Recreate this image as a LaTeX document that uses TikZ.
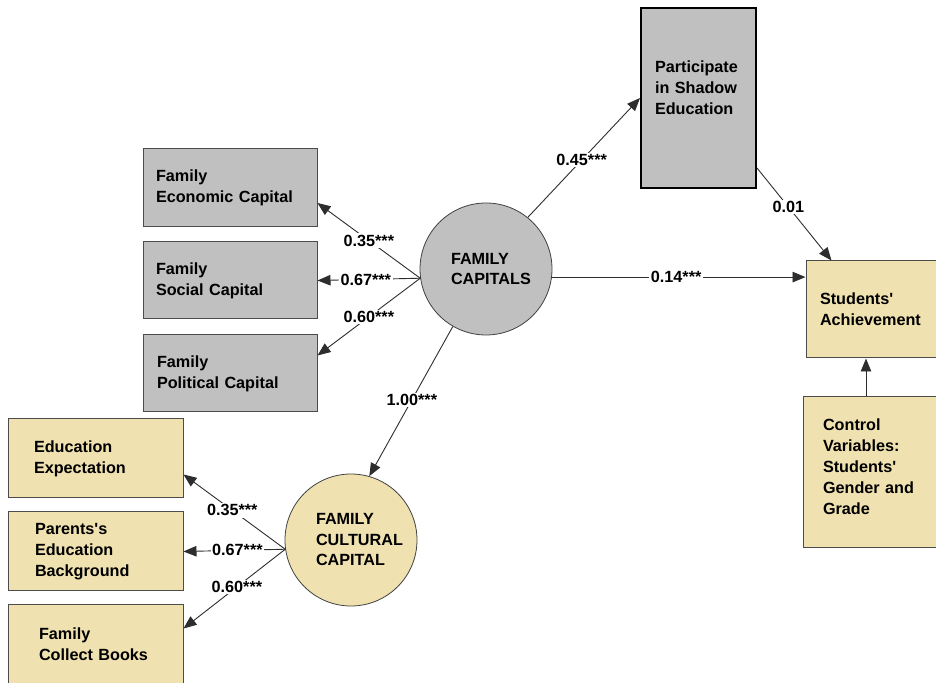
\documentclass[tikz,border=0pt]{standalone}
\usepackage{fontspec}
\setmainfont{Liberation Sans}
\usetikzlibrary{arrows.meta}
\definecolor{boxgray}{RGB}{192,192,192}
\definecolor{boxbeige}{RGB}{240,226,176}
\definecolor{edgegray}{RGB}{45,45,45}
\tikzset{
    box/.style = {
        draw = black!70,
        line width = 1pt,
        align = left,
        inner sep = 0pt,
        font = \bfseries\fontsize{16.2}{21}\selectfont,
        },
    gray box/.style = {
        box,
        fill = boxgray,
        },
    beige box/.style = {
        box,
        fill = boxbeige,
        },
    latent/.style = {
        circle,
        draw = black!75,
        line width = 0.8pt,
        minimum size = 132pt,
        inner sep = 0pt,
        align = left,
        text width = 100pt,
        execute at begin node = {\setlength{\leftskip}{15pt}},
        font = \bfseries\fontsize{16.2}{20.5}\selectfont,
        },
    coef arrow/.style = {
        draw = edgegray,
        line width = 0.9pt,
        -{Triangle[length=13pt, width=10.5pt]},
        },
    coef/.style = {
        fill = white,
        inner sep = 1.5pt,
        font = \bfseries\fontsize{16.2}{18}\selectfont,
        },
}

\begin{document}
\begin{tikzpicture}[x=1pt, y=1pt]
    \path[use as bounding box, clip] (0,0) rectangle (936,682);

    % family capitals and their indicators
    \node [latent, fill=boxgray] (fc) at (486,413) {FAMILY\\CAPITALS};
    \node [gray box, minimum width=174pt, minimum height=78pt, text width=148pt] (econ) at (230,494) {Family\\Economic Capital};
    \node [gray box, minimum width=174pt, minimum height=77pt, text width=148pt] (social) at (230,401.5) {Family\\Social Capital};
    \node [gray box, minimum width=174pt, minimum height=77pt, text width=146pt] (polit) at (230,308.5) {Family\\Political Capital};

    % family cultural capital and its indicators
    \node [latent, fill=boxbeige] (fcc) at (351,142) {FAMILY\\CULTURAL\\CAPITAL};
    \node [beige box, minimum width=175pt, minimum height=79pt, text width=123pt] (expect) at (95.5,223.5) {Education\\Expectation};
    \node [beige box, minimum width=175pt, minimum height=79pt, text width=121pt] (parent) at (95.5,130.5) {Parents\textquotesingle s\\Education\\Background};
    \node [beige box, minimum width=175pt, minimum height=79pt, text width=113pt] (books) at (95.5,37.5) {Family\\Collect Books};

    % outcomes
    \node [gray box, draw=black, line width=2pt, minimum width=115pt, minimum height=180pt, text width=87pt] (shadow) at (698.5,584) {Participate\\in Shadow\\Education\\\mbox{}};
    \node [beige box, minimum width=144pt, minimum height=97pt, text width=116pt] (ach) at (878,372.5) {Students\textquotesingle\\Achievement};
    \node [beige box, minimum width=142pt, minimum height=151pt, text width=102pt] (ctrl) at (874,209.5) {Control\\Variables:\\Students\textquotesingle\\Gender and\\Grade\\[-10pt]\mbox{}};

    \draw [coef arrow] (fc.188) -- node [coef, pos=0.5] {0.35***} ([yshift=-15pt]econ.east);
    \draw [coef arrow] (fc.188) -- node [coef, pos=0.53] {0.67***} (social.east);
    \draw [coef arrow] (fc.188) -- node [coef, pos=0.5] {0.60***} ([yshift=18pt]polit.east);

    \draw [coef arrow] (fcc.188) -- node [coef, pos=0.52] {0.35***} ([yshift=-16pt]expect.east);
    \draw [coef arrow] (fcc.188) -- node [coef, pos=0.47] {0.67***} (parent.east);
    \draw [coef arrow] (fcc.188) -- node [coef, pos=0.475] {0.60***} ([yshift=16pt]books.east);

    \draw [coef arrow] (fc.240) -- node [coef, pos=0.49] {1.00***} (fcc.74);
    \draw [coef arrow] (fc.51) -- node [coef, pos=0.48] {0.45***} (shadow.west);
    \draw [coef arrow] (fc.-7) -- node [coef, pos=0.49] {0.14***} (fc.-7 -| ach.west);
    \draw [coef arrow] ([yshift=21pt]shadow.south east) -- node [coef, pos=0.42] {0.01} ([xshift=26pt]ach.north west);
    \draw [coef arrow] ([xshift=-8pt]ctrl.north) -- ([xshift=-8pt]ctrl.north |- ach.south);
\end{tikzpicture}
\end{document}
